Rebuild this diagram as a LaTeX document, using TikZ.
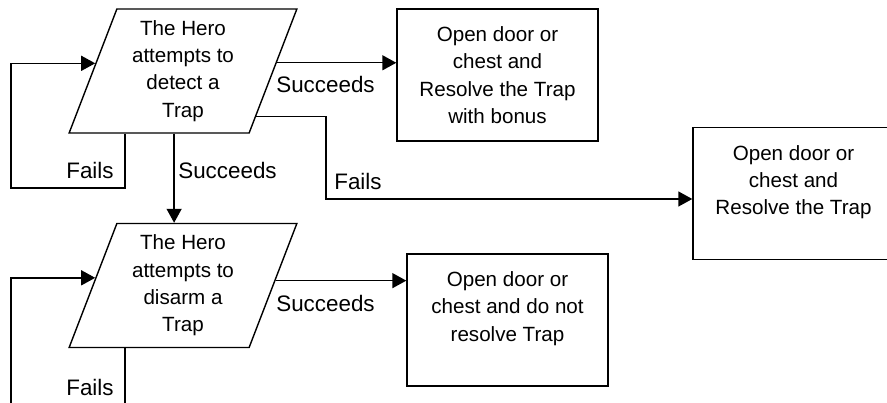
\documentclass[tikz,border=0pt]{standalone}
\usepackage{fontspec}
\setmainfont{Liberation Sans}
\usetikzlibrary{shapes.geometric,arrows.meta,calc}

\begin{document}
\begin{tikzpicture}[x=1pt,y=-1pt,>={Triangle[length=14pt,width=15pt]},line width=1.4pt,
    font=\fontsize{20.6pt}{27.3pt}\selectfont,
    attempt/.style={draw,trapezium,trapezium left angle=70,trapezium right angle=110,trapezium stretches=true,minimum width=228pt,minimum height=124pt,inner sep=0pt,align=center},
    outcome/.style={draw,rectangle,minimum width=201pt,minimum height=132pt,inner sep=0pt,align=center},
    lbl/.style={font=\fontsize{22.4pt}{27pt}\selectfont}]
  \useasboundingbox (0,0) rectangle (887,403);
  \node[attempt] (detect) at (183,71) {The Hero\\attempts to\\detect a\\Trap};
  \node[attempt] (disarm) at (183,285.5) {The Hero\\attempts to\\disarm a\\Trap};
  \node[outcome] (bonus) at (497.5,75) {Open door or\\chest and\\Resolve the Trap\\with bonus};
  \node[outcome] (resolve) at (793.5,193.5) {Open door or\\chest and\\Resolve the Trap\\\mbox{}};
  \node[outcome] (noresolve) at (507.5,320) {Open door or\\chest and do not\\resolve Trap\\\mbox{}};
  \coordinate (loopdetect) at (11,188);
  \coordinate (loopdisarm) at (11,415);
  \coordinate (failbend) at (326,199);
  % detecting
  \draw[->] (detect.5) -- (detect.5 -| bonus.west);
  \draw[->] ($(detect.bottom left corner)+(106,0)$) coordinate (drop) -- (drop |- disarm.north);
  \draw[->] ($(detect.bottom left corner)+(57,0)$) |- (loopdetect) |- (detect.175);
  \draw[->] (detect.-32) -| (failbend) -- (failbend -| resolve.west);
  % disarming
  \draw[->] (disarm.3) -- (disarm.3 -| noresolve.west);
  \draw[->] ($(disarm.bottom left corner)+(57,0)$) |- (loopdisarm) |- (disarm.175);
  \node[lbl] (succeedsA) at (325.5,84) {Succeeds};
  \node[lbl] (failsA) at (90,170) {Fails};
  \node[lbl] (succeedsB) at (227.5,170) {Succeeds};
  \node[lbl] (failsB) at (358,181) {Fails};
  \node[lbl] (succeedsC) at (325.5,303) {Succeeds};
  \node[lbl] (failsC) at (90,387.5) {Fails};
\end{tikzpicture}
\end{document}
